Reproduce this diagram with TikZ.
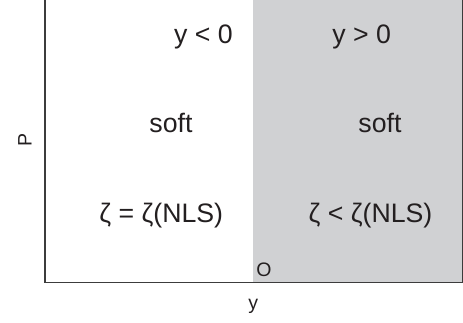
\documentclass[tikz,border=0pt]{standalone}
\usepackage{fontspec}
\setmainfont{Liberation Sans}
\definecolor{regiongray}{RGB}{208,209,211}
\definecolor{axisgray}{RGB}{60,60,60}
\definecolor{inkcol}{RGB}{35,31,32}
\begin{document}
\begin{tikzpicture}[x=1pt,y=-1pt,
  biglabel/.style={anchor=base,inner sep=0pt,text=inkcol,font=\fontsize{26.7}{32}\selectfont},
  smalllabel/.style={anchor=base,inner sep=0pt,text=inkcol,font=\fontsize{19.5}{23}\selectfont},
  axisline/.style={draw=axisgray,line width=1.5pt}]
\useasboundingbox (0,0) rectangle (463,322);
\fill[regiongray] (253.3,0) rectangle (462.5,282.3);
\draw[axisline] (45,0) -- (45,282.3) -- (462.5,282.3) -- (462.5,0);
\node[biglabel] (yneg) at (203.4,43) {y < 0};
\node[biglabel] (ypos) at (361.7,43) {y > 0};
\node[biglabel] (softL) at (171,132) {soft};
\node[biglabel] (softR) at (380,132) {soft};
\node[biglabel] (zetaL) at (161.3,222.7) {ζ = ζ(NLS)};
\node[biglabel] (zetaR) at (370.5,222.7) {ζ < ζ(NLS)};
\node[smalllabel] (origin) at (264,276) {O};
\node[smalllabel] (xlab) at (253.3,309.7) {y};
\node[smalllabel,rotate=90] (ylab) at (31.7,140) {P};
\end{tikzpicture}
\end{document}
